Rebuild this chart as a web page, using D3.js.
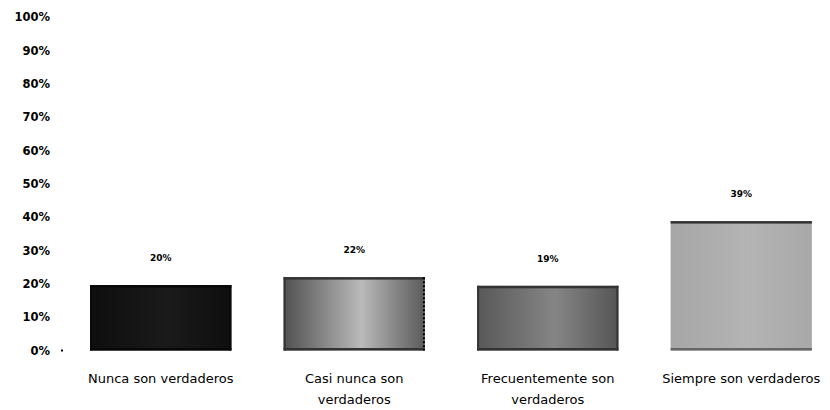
<!DOCTYPE html>
<html><head><meta charset="utf-8">
<script src="https://cdn.jsdelivr.net/npm/d3@7"></script>
<style>body{margin:0;background:#fff}svg{display:block}</style>
</head><body>
<svg id="c" width="830" height="410"></svg>
<script>
const categories = [["Nunca son verdaderos"], ["Casi nunca son", "verdaderos"], ["Frecuentemente son", "verdaderos"], ["Siempre son verdaderos"]];
const values = [19.6, 22.0, 19.4, 38.8];
const valueLabels = ["20%", "22%", "19%", "39%"];
const yTicks = [0, 10, 20, 30, 40, 50, 60, 70, 80, 90, 100];
const fills = [
  ["#0e0e0e", "#1a1a1a", "#0e0e0e"],
  ["#505050", "#bababa", "#5a5a5a"],
  ["#585858", "#858585", "#555555"],
  ["#a6a6a6", "#b4b4b4", "#a8a8a8"]
];
const borders = ["#080808", "#333333", "#333333", "#333333"];

const svg = d3.select("#c");
const x = d3.scaleBand().domain(d3.range(categories.length)).range([64, 838]).paddingInner(0.27).paddingOuter(0.135);
const y = d3.scaleLinear().domain([0, 100]).range([350.5, 17]);

const defs = svg.append("defs");
fills.forEach((f, i) => {
  const g = defs.append("linearGradient").attr("id", "g" + i).attr("x1", "0").attr("x2", "1").attr("y1", "0").attr("y2", "0");
  g.append("stop").attr("offset", "0%").attr("stop-color", f[0]);
  g.append("stop").attr("offset", "55%").attr("stop-color", f[1]);
  g.append("stop").attr("offset", "100%").attr("stop-color", f[2]);
});

// y axis labels
const yAxis = d3.axisLeft(y).tickValues(yTicks).tickFormat(d => d + "%").tickSize(0).tickPadding(0);
const ya = svg.append("g").attr("transform", "translate(50,0)").call(yAxis);
ya.select(".domain").remove();
ya.selectAll("text").attr("font-family", "DejaVu Sans").attr("font-size", 11.5).attr("font-weight", "bold").attr("fill", "#000");
svg.append("rect").attr("x", 61).attr("y", y(0) - 1).attr("width", 2).attr("height", 2).attr("fill", "#000");

// bars
const bars = svg.append("g");
values.forEach((v, i) => {
  const x0 = x(i), w = x.bandwidth(), top = y(v), bot = y(0);
  bars.append("rect").attr("x", x0).attr("y", top).attr("width", w).attr("height", bot - top).attr("fill", `url(#g${i})`);
  bars.append("rect").attr("x", x0).attr("y", top).attr("width", w).attr("height", 2.5).attr("fill", borders[i]);
  bars.append("rect").attr("x", x0).attr("y", bot - 2.5).attr("width", w).attr("height", 2.5).attr("fill", i === 3 ? "#666" : borders[i]);
  bars.append("rect").attr("x", x0).attr("y", top).attr("width", 2).attr("height", bot - top).attr("fill", i === 3 ? "none" : borders[i]);
  if (i === 1) {
    bars.append("line").attr("x1", x0 + w - 1).attr("x2", x0 + w - 1).attr("y1", top).attr("y2", bot)
      .attr("stroke", "#000").attr("stroke-width", 2).attr("stroke-dasharray", "2,2");
  } else if (i !== 3) {
    bars.append("rect").attr("x", x0 + w - 2).attr("y", top).attr("width", 2).attr("height", bot - top).attr("fill", borders[i]);
  }
  bars.append("text").attr("x", x0 + w / 2).attr("y", top - 24).attr("text-anchor", "middle")
    .attr("font-family", "DejaVu Sans").attr("font-size", 9).attr("font-weight", "bold").attr("fill", "#000").text(valueLabels[i]);
});

// category labels
categories.forEach((lines, i) => {
  const t = svg.append("text").attr("x", x(i) + x.bandwidth() / 2).attr("y", 383).attr("text-anchor", "middle")
    .attr("font-family", "DejaVu Sans").attr("font-size", 13).attr("fill", "#000");
  lines.forEach((l, k) => t.append("tspan").attr("x", x(i) + x.bandwidth() / 2).attr("dy", k ? 21 : 0).text(l));
});
</script>
</body></html>
